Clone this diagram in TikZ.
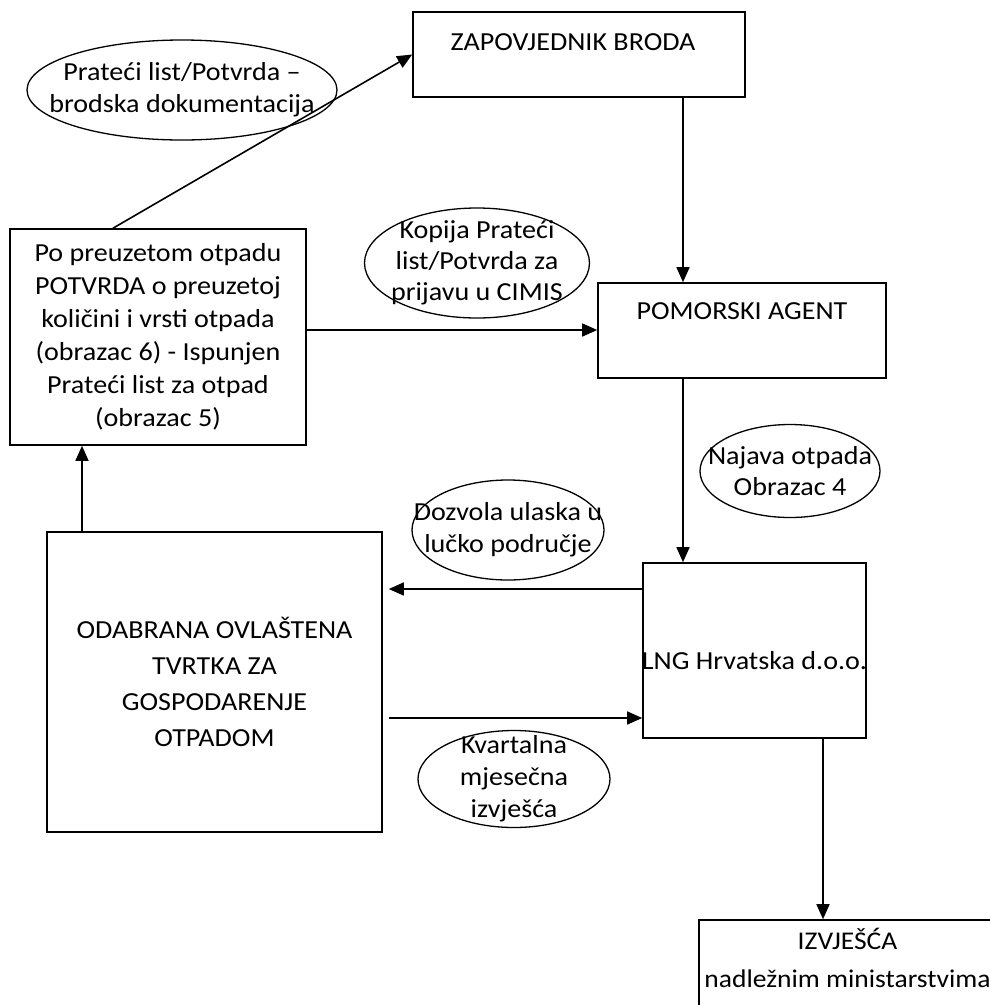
\documentclass[tikz,border=0pt]{standalone}
\usepackage{fontspec}
\setmainfont{Carlito}[FakeStretch=1.08]
\usetikzlibrary{positioning, shapes.geometric, arrows.meta}

\begin{document}
\begin{tikzpicture}[x=1pt, y=-1pt,
font=\fontsize{26}{32}\selectfont,
line width=1.6pt,
box/.style={draw, rectangle, inner sep=0pt, align=center},
oval/.style={draw, ellipse, inner sep=0pt, line width=1.3pt},
arr/.style={-{Triangle[length=15pt,width=13pt]}}]
\useasboundingbox (0,0) rectangle (989,1005);
\node[box, minimum width=332, minimum height=85] (zap) at (579,54.5) {};
\node[box, minimum width=288, minimum height=95] (pom) at (742,330.5) {};
\node[box, minimum width=296, minimum height=216, font=\fontsize{26}{33}\selectfont] (lijevi) at (158,337)
	{Po preuzetom otpadu\\POTVRDA o preuzetoj\\količini i vrsti otpada\\(obrazac 6) - Ispunjen\\Prateći list za otpad\\(obrazac 5)};
\node[box, minimum width=335, minimum height=300, font=\fontsize{26}{36}\selectfont] (odabrana) at (214.5,682)
	{ODABRANA OVLAŠTENA\\TVRTKA ZA\\GOSPODARENJE\\OTPADOM};
\node[box, minimum width=223, minimum height=175] (lng) at (754.5,650.5) {};
\node[box, minimum width=311, minimum height=110] (izvj) at (854.5,975) {};
\node[yshift=-31pt, xshift=-6pt] (zapt) at (zap.north) {ZAPOVJEDNIK BRODA};
\node[yshift=-29pt] (pomt) at (pom.north) {POMORSKI AGENT};
\node[yshift=-10pt] (lngt) at (lng.center) {LNG Hrvatska d.o.o.};
\node[align=center, anchor=north, yshift=-5pt, xshift=-7pt, font=\fontsize{25.5}{38}\selectfont] (izvjt) at (izvj.north)
	{IZVJEŠĆA\\nadležnim ministarstvima};
\node[oval, minimum width=310, minimum height=100, label={[align=center]center:Prateći list/Potvrda --\\brodska dokumentacija}] (potvrda) at (182,90) {};
\node[oval, minimum width=225, minimum height=110, label={[align=center, font=\fontsize{26}{31}\selectfont]center:Kopija Prateći\\list/Potvrda za\\prijavu u CIMIS}] (kopija) at (477,263) {};
\node[oval, minimum width=180, minimum height=93, label={[align=center, font=\fontsize{26}{31}\selectfont]center:Najava otpada\\Obrazac 4}] (najava) at (790,471) {};
\node[oval, minimum width=192, minimum height=100, label={[align=center]center:Dozvola ulaska u\\lučko područje}] (dozvola) at (508,530) {};
\node[oval, minimum width=192, minimum height=97, label={[align=center]center:Kvartalna\\mjesečna\\izvješća}] (kvartal) at (514,779) {};
\coordinate (k1) at (683,0);
\coordinate (k2) at (0,330);
\coordinate (k3) at (82,0);
\coordinate (k4) at (823,0);
\coordinate (k5) at (0,589);
\coordinate (k6) at (0,718);
\draw[arr] ([xshift=-45pt]lijevi.north) -- (zap.west);
\draw[arr] (zap.south -| k1) -- (pom.north -| k1);
\draw[arr] (lijevi.east |- k2) -- (pom.west |- k2);
\draw[arr] (pom.south -| k1) -- (lng.north -| k1);
\draw[arr] (odabrana.north -| k3) -- (lijevi.south -| k3);
\draw[arr, shorten >=6pt] (lng.west |- k5) -- (odabrana.east |- k5);
\draw[arr, shorten <=6pt] (odabrana.east |- k6) -- (lng.west |- k6);
\draw[arr] (lng.south -| k4) -- (izvj.north -| k4);
\end{tikzpicture}
\end{document}
